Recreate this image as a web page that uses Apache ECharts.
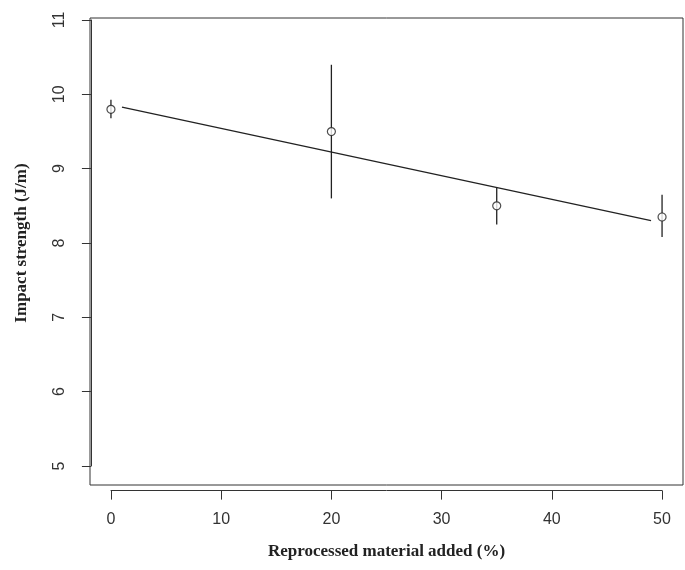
<!DOCTYPE html>
<html>
<head>
	<script src="https://cdn.jsdelivr.net/npm/echarts@6/dist/echarts.min.js"></script>
</head>
<body style="margin:0">
	<div id="main" style="width:685px;height:570px;"></div>
	<script>
		var myChart = echarts.init(document.getElementById('main'));

		// data
		var xs = [0, 20, 35, 50];
		var means = [9.8, 9.5, 8.5, 8.35];
		var lows = [9.68, 8.6, 8.25, 8.08];
		var highs = [9.93, 10.4, 8.75, 8.65];
		var fitLine = [[1, 9.83], [49, 8.3]];

		var lab = { color: '#333', fontFamily: 'Liberation Sans', fontSize: 16 };
		var nameStyle = { color: '#222', fontFamily: 'Liberation Serif', fontWeight: 'bold', fontSize: 17 };

		var option = {
			backgroundColor: '#fff',
			grid: [
				{ left: 90, right: 2, top: 18, bottom: 85, show: true, borderColor: '#333', borderWidth: 1 },
				{ left: 111, right: 23, top: 18, bottom: 70 },
				{ left: 73, right: 2, top: 20, bottom: 104 }
			],
			xAxis: [
				{ gridIndex: 0, type: 'value', min: -1.9, max: 51.9, show: false },
				{ gridIndex: 1, type: 'value', min: 0, max: 50, interval: 10,
					axisLine: { lineStyle: { color: '#333' } }, axisTick: { length: 9, lineStyle: { color: '#333' } },
					splitLine: { show: false }, axisLabel: Object.assign({ margin: 15 }, lab),
					name: 'Reprocessed material added (%)', nameLocation: 'middle', nameGap: 46, nameTextStyle: nameStyle },
				{ gridIndex: 2, type: 'value', show: false }
			],
			yAxis: [
				{ gridIndex: 0, type: 'value', min: 4.74, max: 11.03, show: false },
				{ gridIndex: 1, type: 'value', show: false },
				{ gridIndex: 2, type: 'value', min: 5, max: 11, interval: 1,
					axisLine: { show: true, lineStyle: { color: '#333' } }, axisTick: { show: true, length: 9, lineStyle: { color: '#333' } },
					splitLine: { show: false }, axisLabel: Object.assign({ rotate: 90, margin: 18 }, lab),
					name: 'Impact strength (J/m)', nameLocation: 'middle', nameGap: 56, nameTextStyle: nameStyle }
			],
			series: [
				{
					type: 'line', xAxisIndex: 0, yAxisIndex: 0, data: fitLine, symbol: 'none',
					lineStyle: { color: '#222', width: 1.3 }
				},
				{
					type: 'custom', xAxisIndex: 0, yAxisIndex: 0,
					data: xs.map(function (x, i) { return [x, lows[i], highs[i]]; }),
					renderItem: function (params, api) {
						var a = api.coord([api.value(0), api.value(1)]);
						var b = api.coord([api.value(0), api.value(2)]);
						return { type: 'line', shape: { x1: a[0], y1: a[1], x2: b[0], y2: b[1] }, style: { stroke: '#222', lineWidth: 1.3 } };
					}
				},
				{
					type: 'scatter', xAxisIndex: 0, yAxisIndex: 0,
					data: xs.map(function (x, i) { return [x, means[i]]; }),
					symbol: 'circle', symbolSize: 8,
					itemStyle: { color: '#fff', borderColor: '#222', borderWidth: 1.2 }
				}
			]
		};
		myChart.setOption(option);
	</script>
</body>
</html>
